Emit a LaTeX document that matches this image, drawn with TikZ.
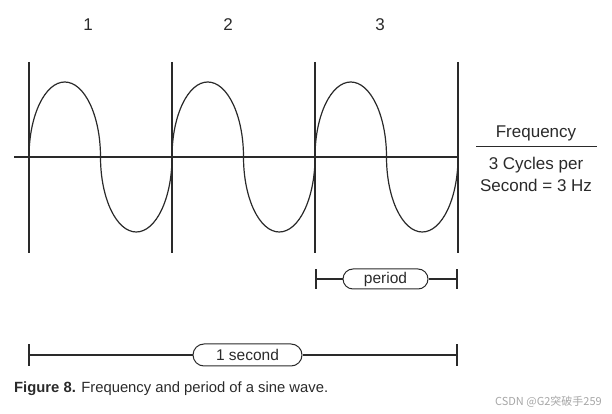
\documentclass[tikz,border=0pt]{standalone}
\usepackage{fontspec}
\setmainfont{Liberation Sans}
\newfontfamily\cjkfont{Noto Sans CJK SC}
\usetikzlibrary{shapes.misc}
\definecolor{ink}{HTML}{2A2A2A}
\begin{document}
\begin{tikzpicture}[x=1pt,y=1pt,
  line/.style={draw=ink,line width=1.1pt},
  wave/.style={draw=ink,line width=1.2pt},
  numlabel/.style={text=ink,font=\fontsize{17}{20}\selectfont,inner sep=0pt},
  freqtext/.style={text=ink,font=\fontsize{17}{22}\selectfont,inner sep=0pt,align=center},
  oval/.style={draw=ink,line width=1pt,rounded rectangle,inner sep=0pt,text=ink,font=\fontsize{15.5}{18}\selectfont},
  tickmark/.style={draw=ink,line width=1.1pt}
]
\useasboundingbox (0,0) rectangle (612,414);
% axis and vertical lines
\coordinate (axL) at (14,257);
\coordinate (axR) at (458,257);
\draw[line] (axL) -- (axR);
\foreach \i/\x in {0/29,1/172,2/315,3/458}{
  \coordinate (vt\i) at (\x,352);
  \coordinate (vb\i) at (\x,161);
  \draw[line] (vt\i) -- (vb\i);
}
% sine wave (semi-elliptic halves)
\draw[wave] (29,257)
  arc[start angle=180,end angle=0,x radius=35.75pt,y radius=75pt]
  arc[start angle=180,end angle=360,x radius=35.75pt,y radius=75pt]
  arc[start angle=180,end angle=0,x radius=35.75pt,y radius=75pt]
  arc[start angle=180,end angle=360,x radius=35.75pt,y radius=75pt]
  arc[start angle=180,end angle=0,x radius=35.75pt,y radius=75pt]
  arc[start angle=180,end angle=360,x radius=35.75pt,y radius=75pt];
% cycle numbers
\node[numlabel] (n1) at (88,389) {1};
\node[numlabel] (n2) at (228,389) {2};
\node[numlabel] (n3) at (380,389) {3};
% frequency
\node[freqtext] (freq) at (536,281) {Frequency};
\coordinate (ruleL) at (476,267);
\coordinate (ruleR) at (597,267);
\draw[draw=ink,line width=1pt] (ruleL) -- (ruleR);
\node[freqtext] (cyc) at (536,240) {3 Cycles per\\Second = 3 Hz};
% period bracket
\coordinate (pL) at (316,135);
\coordinate (pR) at (457,135);
\node[oval,minimum width=85pt,minimum height=20pt] (per) at (385.5,135) {period};
\draw[tickmark] ([yshift=-10pt]pL) -- ([yshift=10pt]pL);
\draw[tickmark] ([yshift=-10pt]pR) -- ([yshift=10pt]pR);
\draw[line] (pL) -- (per.west);
\draw[line] (per.east) -- (pR);
% one second bracket
\coordinate (sL) at (29,59);
\coordinate (sR) at (457,59);
\node[oval,minimum width=109pt,minimum height=22pt] (sec) at (247.5,59) {1 second};
\draw[tickmark] ([yshift=-11pt]sL) -- ([yshift=11pt]sL);
\draw[tickmark] ([yshift=-11pt]sR) -- ([yshift=11pt]sR);
\draw[line] (sL) -- (sec.west);
\draw[line] (sec.east) -- (sR);
% caption
\node[anchor=base west,inner sep=0pt,text=ink,font=\fontsize{14.8}{17}\selectfont] (cap) at (14,21) {\textbf{Figure 8.} Frequency and period of a sine wave.};
% watermark
\node[anchor=east,inner sep=0pt,text=black!35,font=\cjkfont\fontsize{11}{13}\selectfont] (wm) at (602,12) {CSDN @G2突破手259};
\end{tikzpicture}
\end{document}
